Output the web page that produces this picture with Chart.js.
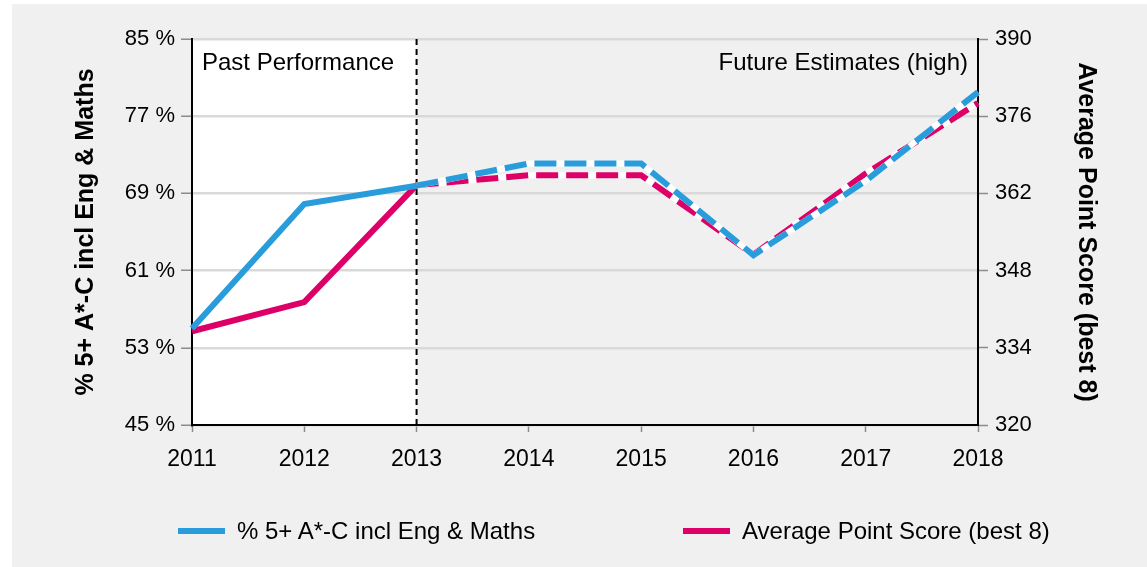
<!DOCTYPE html>
<html>
<head>
<meta charset="utf-8">
<script src="https://cdn.jsdelivr.net/npm/chart.js@4.4.1/dist/chart.umd.min.js"></script>
<style>
  html, body { margin: 0; padding: 0; background: #fff; overflow: hidden; }
  #panel { position: absolute; left: 12px; top: 4px; width: 1135px; height: 563px; background: #f0f0f0; }
  #myChart { position: absolute; left: 0; top: 0; }
  .legend-item { position: absolute; top: 509px; height: 36px; display: flex; align-items: center;
    font: 24px 'Liberation Sans', Arial, sans-serif; color: #000; white-space: nowrap; }
  .legend-line { display: inline-block; width: 47px; height: 6px; margin-right: 12px; }
</style>
</head>
<body>
<div id="panel">
  <canvas id="myChart" width="1135" height="563"></canvas>
  <div id="legend"></div>
</div>
<script>
// chart data
var years = ["2011", "2012", "2013", "2014", "2015", "2016", "2017", "2018"];
var pctValues = [55, 67.9, 69.8, 72.1, 72.1, 62.6, 70.3, 79.5];
var apsValues = [337, 342.3, 363.5, 365.3, 365.3, 350.9, 365.6, 378.4];
var seriesLabels = ["% 5+ A*-C incl Eng & Maths", "Average Point Score (best 8)"];
var seriesColors = ["#299cdb", "#dc0067"];
var pctRange = [45, 85, 8];
var apsRange = [320, 390, 14];
var splitIndex = 2; // 2013 - past / future
var regionLabels = ["Past Performance", "Future Estimates (high)"];

var FONT = "'Liberation Sans', Arial, sans-serif";

function futureDash(ctx) {
  return ctx.p0DataIndex >= splitIndex ? [22, 8] : undefined;
}
function pastHidden(ctx) {
  return ctx.p0DataIndex >= splitIndex ? "#ffffff" : "rgba(0,0,0,0)";
}

var regionPlugin = {
  id: "regions",
  beforeDraw: function (chart) {
    var a = chart.chartArea;
    var xs = chart.scales.x.getPixelForValue(splitIndex);
    var ctx = chart.ctx;
    ctx.save();
    ctx.fillStyle = "#ffffff";
    ctx.fillRect(a.left, a.top, xs - a.left, a.bottom - a.top);
    ctx.restore();
  },
  beforeDatasetsDraw: function (chart) {
    var a = chart.chartArea;
    var xs = chart.scales.x.getPixelForValue(splitIndex);
    var ctx = chart.ctx;
    ctx.save();
    ctx.strokeStyle = "#000";
    ctx.lineWidth = 2;
    ctx.setLineDash([6, 4]);
    ctx.beginPath();
    ctx.moveTo(xs, a.top);
    ctx.lineTo(xs, a.bottom);
    ctx.stroke();
    ctx.setLineDash([]);
    ctx.fillStyle = "#000";
    ctx.font = "24px " + FONT;
    ctx.textBaseline = "middle";
    ctx.textAlign = "left";
    ctx.fillText(regionLabels[0], a.left + 10, a.top + 24);
    ctx.textAlign = "right";
    ctx.fillText(regionLabels[1], a.right - 10, a.top + 24);
    ctx.restore();
  }
};

new Chart("myChart", {
  type: "line",
  plugins: [regionPlugin],
  data: {
    labels: years,
    datasets: [
      {
        label: seriesLabels[0], data: pctValues, yAxisID: "y", order: 0,
        borderColor: seriesColors[0], backgroundColor: seriesColors[0],
        borderWidth: 6, pointRadius: 0, tension: 0,
        segment: { borderDash: futureDash }
      },
      {
        label: "under1", data: pctValues, yAxisID: "y", order: 1,
        borderColor: "#fff", borderWidth: 6, pointRadius: 0,
        segment: { borderColor: pastHidden }
      },
      {
        label: seriesLabels[1], data: apsValues, yAxisID: "y1", order: 2,
        borderColor: seriesColors[1], backgroundColor: seriesColors[1],
        borderWidth: 6, pointRadius: 0, tension: 0,
        segment: { borderDash: futureDash }
      },
      {
        label: "under2", data: apsValues, yAxisID: "y1", order: 3,
        borderColor: "#fff", borderWidth: 6, pointRadius: 0,
        segment: { borderColor: pastHidden }
      }
    ]
  },
  options: {
    responsive: false,
    animation: false,
    layout: { padding: { top: 35, bottom: 92, left: 0, right: 0 } },
    plugins: { legend: { display: false }, tooltip: { enabled: false } },
    scales: {
      x: {
        offset: false,
        border: { display: true, color: "#000", width: 2 },
        grid: { display: true, drawOnChartArea: false, tickLength: 7, tickColor: "#8c8c8c", tickWidth: 1.5 },
        ticks: { color: "#000", font: { family: FONT, size: 23 }, padding: 14, maxRotation: 0 },
        afterFit: function (s) { s.height = 50; }
      },
      y: {
        position: "left",
        min: pctRange[0], max: pctRange[1],
        border: { display: true, color: "#000", width: 2 },
        grid: { color: "#d9d9d9", lineWidth: 2.5, tickLength: 11, tickColor: "#8c8c8c", tickWidth: 1.5 },
        ticks: { stepSize: pctRange[2], color: "#000", font: { family: FONT, size: 22 }, padding: 6,
          callback: function (v) { return v + " %"; } },
        title: { display: true, text: seriesLabels[0], color: "#000",
          font: { family: FONT, size: 25, weight: "bold" }, padding: { top: 59, bottom: 0 } },
        afterFit: function (s) { s.width = 180; }
      },
      y1: {
        position: "right",
        min: apsRange[0], max: apsRange[1],
        border: { display: true, color: "#000", width: 2 },
        grid: { drawOnChartArea: false, tickLength: 10, tickColor: "#8c8c8c", tickWidth: 1.5 },
        ticks: { stepSize: apsRange[2], color: "#000", font: { family: FONT, size: 22 }, padding: 7 },
        title: { display: true, text: seriesLabels[1], color: "#000",
          font: { family: FONT, size: 25, weight: "bold" }, padding: { top: 46, bottom: 0 } },
        afterFit: function (s) { s.width = 169; }
      }
    }
  }
});

// legend below the chart
var legend = document.getElementById("legend");
var legendLeft = [166, 671];
for (var i = 0; i < seriesLabels.length; i++) {
  var item = document.createElement("div");
  item.className = "legend-item";
  item.style.left = legendLeft[i] + "px";
  var line = document.createElement("span");
  line.className = "legend-line";
  line.style.background = seriesColors[i];
  item.appendChild(line);
  item.appendChild(document.createTextNode(seriesLabels[i]));
  legend.appendChild(item);
}
</script>
</body>
</html>
